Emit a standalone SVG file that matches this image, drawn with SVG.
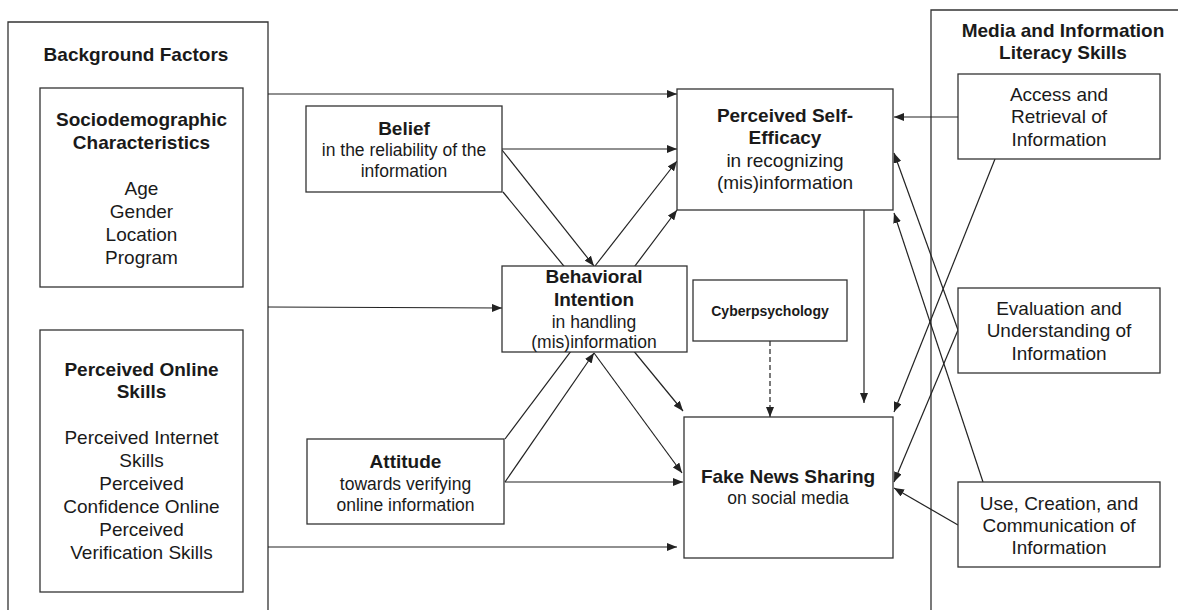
<svg xmlns="http://www.w3.org/2000/svg" width="1178" height="610" viewBox="0 0 1178 610">
<style>
.box{fill:#fff;stroke:#333;stroke-width:1.3}
.frame{fill:none;stroke:#333;stroke-width:1.3}
.ln{stroke:#222;stroke-width:1.2;fill:none;marker-end:url(#ah)}
.dash{stroke-dasharray:5,3}
text{font-family:"Liberation Sans",Arial,sans-serif;fill:#1a1a1a;text-anchor:middle}
.b{font-weight:bold;font-size:19px}
.r{font-size:19px}
.s{font-size:17.5px}
.c{font-weight:bold;font-size:14px}
</style>
<defs>
<marker id="ah" markerUnits="userSpaceOnUse" markerWidth="11" markerHeight="8" refX="10" refY="4" orient="auto">
<path d="M0,0 L10,4 L0,8 z" fill="#222"/>
</marker>
</defs>
<rect width="1178" height="610" fill="#fff"/>

<g id="background-factors">
<path class="frame" d="M8,612 V22 H268 V612"/>
<text class="b" x="136" y="61">Background Factors</text>
</g>
<g id="mil-skills">
<path class="frame" d="M931,612 V10 H1180"/>
<text class="b" x="1063" y="37">Media and Information</text>
<text class="b" x="1063" y="59">Literacy Skills</text>
</g>

<g id="connectors">
<line class="ln" x1="268" y1="94" x2="677" y2="94"/>
<line class="ln" x1="268" y1="307" x2="502" y2="308"/>
<line class="ln" x1="268" y1="547" x2="677" y2="547"/>
<line class="ln" x1="502" y1="149" x2="677" y2="149"/>
<line class="ln" x1="502" y1="150" x2="594" y2="266"/>
<line class="ln" x1="503" y1="192" x2="683" y2="411"/>
<line class="ln" x1="505" y1="439" x2="677" y2="210"/>
<line class="ln" x1="595" y1="266" x2="677" y2="161"/>
<line class="ln" x1="505" y1="482" x2="594" y2="353"/>
<line class="ln" x1="505" y1="482" x2="683" y2="482"/>
<line class="ln" x1="594" y1="353" x2="682" y2="473"/>
<line class="ln dash" x1="770" y1="341" x2="770" y2="417"/>
<line class="ln" x1="864" y1="210" x2="864" y2="403"/>
<line class="ln" x1="958" y1="117" x2="894" y2="117"/>
<line class="ln" x1="995" y1="159" x2="894" y2="412"/>
<line class="ln" x1="958" y1="330" x2="894" y2="153"/>
<line class="ln" x1="958" y1="330" x2="894" y2="482"/>
<line class="ln" x1="983" y1="482" x2="894" y2="213"/>
<line class="ln" x1="958" y1="525" x2="894" y2="488"/>
</g>

<g id="sociodemographic">
<rect class="box" x="40" y="88" width="203" height="199"/>
<text class="b" x="141.5" y="126">Sociodemographic</text>
<text class="b" x="141.5" y="149">Characteristics</text>
<text class="r" x="141.5" y="195">Age</text>
<text class="r" x="141.5" y="218">Gender</text>
<text class="r" x="141.5" y="241">Location</text>
<text class="r" x="141.5" y="264">Program</text>
</g>

<g id="online-skills">
<rect class="box" x="40" y="330" width="203" height="262"/>
<text class="b" x="141.5" y="376">Perceived Online</text>
<text class="b" x="141.5" y="398">Skills</text>
<text class="r" x="141.5" y="444">Perceived Internet</text>
<text class="r" x="141.5" y="467">Skills</text>
<text class="r" x="141.5" y="490">Perceived</text>
<text class="r" x="141.5" y="513">Confidence Online</text>
<text class="r" x="141.5" y="536">Perceived</text>
<text class="r" x="141.5" y="559">Verification Skills</text>
</g>

<g id="belief">
<rect class="box" x="306" y="106" width="196" height="86"/>
<text class="b" x="404" y="135">Belief</text>
<text class="s" x="404" y="156">in the reliability of the</text>
<text class="s" x="404" y="177">information</text>
</g>

<g id="behavioral-intention">
<rect class="box" x="502" y="266" width="185" height="86"/>
<text class="b" x="594" y="283">Behavioral</text>
<text class="b" x="594" y="306">Intention</text>
<text class="s" x="594" y="328">in handling</text>
<text class="s" x="594" y="348">(mis)information</text>
</g>

<g id="attitude">
<rect class="box" x="307" y="439" width="197" height="85"/>
<text class="b" x="405.5" y="468">Attitude</text>
<text class="s" x="405.5" y="490">towards verifying</text>
<text class="s" x="405.5" y="511">online information</text>
</g>

<g id="self-efficacy">
<rect class="box" x="677" y="89" width="216" height="121"/>
<text class="b" x="785" y="122">Perceived Self-</text>
<text class="b" x="785" y="144">Efficacy</text>
<text class="r" x="785" y="167">in recognizing</text>
<text class="r" x="785" y="189">(mis)information</text>
</g>

<g id="cyberpsychology">
<rect class="box" x="693" y="280" width="154" height="61"/>
<text class="c" x="770" y="316">Cyberpsychology</text>
</g>

<g id="fake-news">
<rect class="box" x="684" y="417" width="209" height="141"/>
<text class="b" x="788" y="483">Fake News Sharing</text>
<text class="s" x="788" y="504">on social media</text>
</g>

<g id="access">
<rect class="box" x="958" y="74" width="202" height="85"/>
<text class="r" x="1059" y="101">Access and</text>
<text class="r" x="1059" y="123">Retrieval of</text>
<text class="r" x="1059" y="146">Information</text>
</g>

<g id="evaluation">
<rect class="box" x="958" y="288" width="202" height="85"/>
<text class="r" x="1059" y="315">Evaluation and</text>
<text class="r" x="1059" y="337">Understanding of</text>
<text class="r" x="1059" y="360">Information</text>
</g>

<g id="use-creation">
<rect class="box" x="958" y="482" width="202" height="85"/>
<text class="r" x="1059" y="510">Use, Creation, and</text>
<text class="r" x="1059" y="532">Communication of</text>
<text class="r" x="1059" y="554">Information</text>
</g>
</svg>
